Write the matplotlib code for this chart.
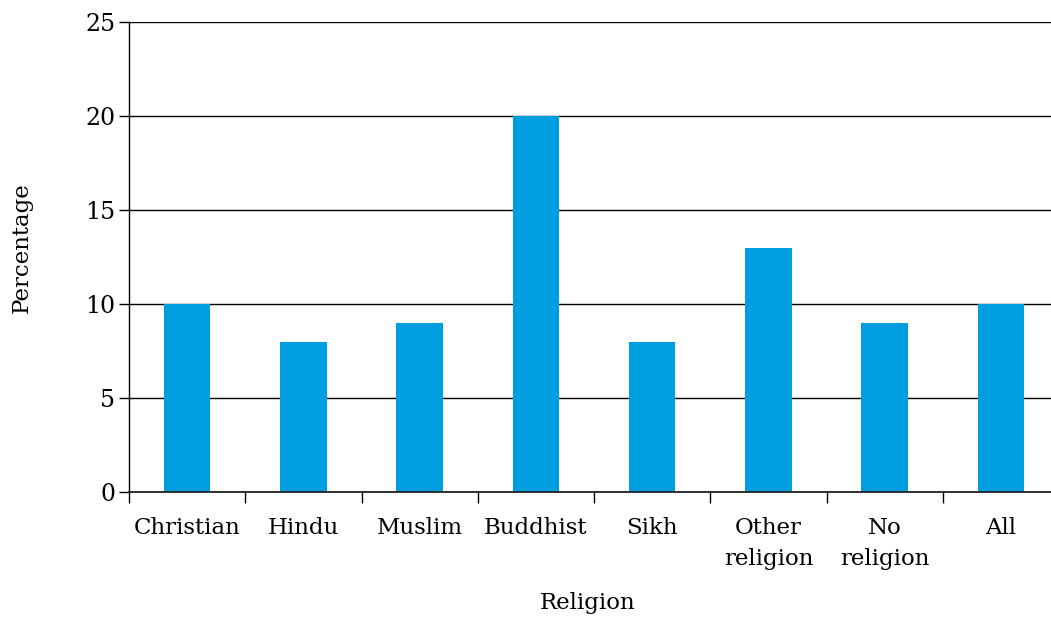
import matplotlib.pyplot as plt

religions = ["Christian", "Hindu", "Muslim", "Buddhist", "Sikh",
             "Other\nreligion", "No\nreligion", "All"]
percentages = [10, 8, 9, 20, 8, 13, 9, 10]

plt.rcParams["font.family"] = ["DejaVu Serif"]

W, H = 1051, 617
fig = plt.figure(figsize=(W / 100, H / 100), dpi=100)
ax = fig.add_axes([129 / W, 1 - 492 / H, 1 - 129 / W, (492 - 22) / H])

pos = list(range(len(religions)))
ax.bar(pos, percentages, width=0.4, color="#009ee0", zorder=2)

ax.set_ylim(0, 25)
ax.set_xlim(-0.5, 7.43)
ax.set_yticks([0, 5, 10, 15, 20, 25])
ax.yaxis.grid(True, color="black", linewidth=1, zorder=0)
ax.set_axisbelow(True)

# category labels in the middle, ticks on the boundaries
ax.set_xticks([p + 0.5 for p in pos[:-1]] + [-0.5])
ax.set_xticklabels([])
ax.set_xticks(pos, minor=True)
ax.set_xticklabels(religions, minor=True, fontsize=16.5, linespacing=1.5)
ax.tick_params(axis="x", which="minor", length=0, pad=18)
ax.tick_params(axis="x", which="major", length=8, width=1, direction="out")
ax.tick_params(axis="y", length=7, width=1, direction="out", labelsize=17, pad=3)

for s in ["top", "right"]:
    ax.spines[s].set_visible(False)
ax.spines["left"].set_linewidth(1)
ax.spines["bottom"].set_linewidth(1.3)
ax.spines["bottom"].set_color("#222222")

fig.text(22 / W, 1 - 248 / H, "Percentage", rotation=90, ha="center", va="center", fontsize=16.5)
fig.text(588 / W, 1 - 603 / H, "Religion", ha="center", va="center", fontsize=16.5)

fig.savefig("out.png", dpi=100)
